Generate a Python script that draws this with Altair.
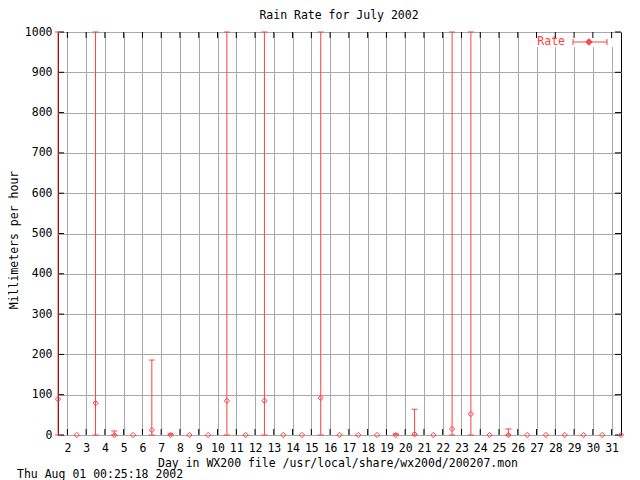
import altair as alt
import pandas as pd

# ---- data ----
days = [1.5, 2.5, 3.5, 4.5, 5.5, 6.5, 7.5, 8.5, 9.5, 10.5, 11.5, 12.5, 13.5, 14.5, 15.5,
        16.5, 17.5, 18.5, 19.5, 20.5, 21.5, 22.5, 23.5, 24.5, 25.5, 26.5, 27.5, 28.5,
        29.5, 30.5, 31.5]
rate = [89, 0, 79, 0, 0, 12, 0, 0, 0, 85, 0, 85, 0, 0, 92,
        0, 0, 0, 0, 2, 0, 15, 52, 0, 0, 0, 0, 0,
        0, 0, 0]
rate_low = [0, 0, 0, 0, 0, 0, 0, 0, 0, 0, 0, 0, 0, 0, 0,
            0, 0, 0, 0, 0, 0, 0, 0, 0, 0, 0, 0, 0,
            0, 0, 0]
rate_high = [1000, 0, 1000, 10, 0, 186, 3, 0, 0, 1000, 0, 1000, 0, 0, 1000,
             0, 0, 0, 3, 64, 0, 1000, 1000, 0, 15, 0, 0, 0,
             0, 0, 0]
x_ticks = [2, 3, 4, 5, 6, 7, 8, 9, 10, 11, 12, 13, 14, 15, 16, 17, 18, 19, 20,
           21, 22, 23, 24, 25, 26, 27, 28, 29, 30, 31]
y_ticks = [0, 100, 200, 300, 400, 500, 600, 700, 800, 900, 1000]

title_text = "Rain Rate for July 2002"
x_title = "Day in WX200 file /usr/local/share/wx200d/200207.mon"
y_title = "Millimeters per hour"
date_text = "Thu Aug 01 00:25:18 2002"
legend_text = "Rate"

RED = "#ff4040"
GRID = "#a8a8a8"
FONT = "DejaVu Sans Mono"
FS = 11.5
W, H = 563, 403

df = pd.DataFrame({"day": days, "rate": rate, "lo": rate_low, "hi": rate_high})
xt = pd.DataFrame({"t": x_ticks})
yt = pd.DataFrame({"t": y_ticks})
one = pd.DataFrame({"a": [0]})

xs = alt.Scale(domain=[1.5, 31.5], nice=False, zero=False)
ys = alt.Scale(domain=[0, 1000], nice=False, zero=False)
xaxis = alt.Axis(values=x_ticks, grid=True, gridColor=GRID, gridWidth=1, domain=False,
                 ticks=False, labelPadding=7, title=None, labelFont=FONT, labelFontSize=FS,
                 labelColor="black", labelAngle=0, format="d", labelFlush=False,
                 labelOverlap=False)
yaxis = alt.Axis(values=y_ticks, grid=True, gridColor=GRID, gridWidth=1, domain=False,
                 ticks=False, labelPadding=6, title=None, labelFont=FONT, labelFontSize=FS,
                 labelColor="black", format="d", labelFlush=False, labelOverlap=False)


def X(f):
    return alt.X(f, type="quantitative", scale=xs, axis=xaxis)


def Y(f):
    return alt.Y(f, type="quantitative", scale=ys, axis=yaxis)


# white key box
keybox = alt.Chart(one).mark_rect(color="white").encode(
    x=alt.value(474), x2=alt.value(555), y=alt.value(1), y2=alt.value(15))

# inward ticks (mirror on all four sides)
tb = alt.Chart(xt).mark_rule(color="black").encode(x=X("t"), y=alt.value(H), y2=alt.value(H - 6))
tt = alt.Chart(xt).mark_rule(color="black").encode(x=X("t"), y=alt.value(0), y2=alt.value(6))
tl = alt.Chart(yt).mark_rule(color="black").encode(y=Y("t"), x=alt.value(0), x2=alt.value(6))
tr = alt.Chart(yt).mark_rule(color="black").encode(y=Y("t"), x=alt.value(W), x2=alt.value(W - 6))

base = alt.Chart(df)
bars = base.mark_rule(color=RED, strokeWidth=1).encode(x=X("day"), y=Y("lo"), y2="hi:Q")
caps_hi = base.transform_filter("datum.hi > datum.lo").mark_rule(
    color=RED, xOffset=-3, x2Offset=3).encode(x=X("day"), x2="day:Q", y=Y("hi"))
caps_lo = base.transform_filter("datum.hi > datum.lo").mark_rule(
    color=RED, xOffset=-3, x2Offset=3).encode(x=X("day"), x2="day:Q", y=Y("lo"))
pts = base.mark_point(shape="diamond", filled=False, size=28, color=RED, strokeWidth=1,
                      opacity=1).encode(x=X("day"), y=Y("rate"))

# key
key_txt = alt.Chart(pd.DataFrame({"s": [legend_text]})).mark_text(
    font=FONT, fontSize=FS, color=RED, align="right", baseline="middle").encode(
    text="s:N", x=alt.value(507), y=alt.value(10))
key_line = alt.Chart(one).mark_rule(color=RED).encode(
    x=alt.value(515), x2=alt.value(549), y=alt.value(10))
key_c1 = alt.Chart(one).mark_rule(color=RED).encode(
    x=alt.value(515), y=alt.value(7), y2=alt.value(13))
key_c2 = alt.Chart(one).mark_rule(color=RED).encode(
    x=alt.value(549), y=alt.value(7), y2=alt.value(13))
key_pt = alt.Chart(one).mark_point(shape="diamond", filled=False, size=20, color=RED,
                                   opacity=1).encode(x=alt.value(531), y=alt.value(10))


def label(s, x, y, align="center", angle=0):
    return alt.Chart(pd.DataFrame({"s": [s]})).mark_text(
        font=FONT, fontSize=FS, color="black", align=align, baseline="middle",
        angle=angle).encode(text="s:N", x=alt.value(x), y=alt.value(y))


t1 = label(title_text, 281, -16)
t2 = label(x_title, 280, 432)
t3 = label(y_title, -43, 208, angle=270)
t4 = label(date_text, -41, 443, align="left")

chart = alt.layer(
    keybox, tb, tt, tl, tr, bars, caps_hi, caps_lo, pts,
    key_txt, key_line, key_c1, key_c2, key_pt, t1, t2, t3, t4
).properties(
    width=W, height=H,
    autosize=alt.AutoSizeParams(type="none"),
    padding={"left": 50, "top": 24, "right": 11, "bottom": 45},
    background="white",
).configure_view(stroke="black", strokeWidth=1)

chart.save("out.html", embed_options={"renderer": "svg", "actions": False})
